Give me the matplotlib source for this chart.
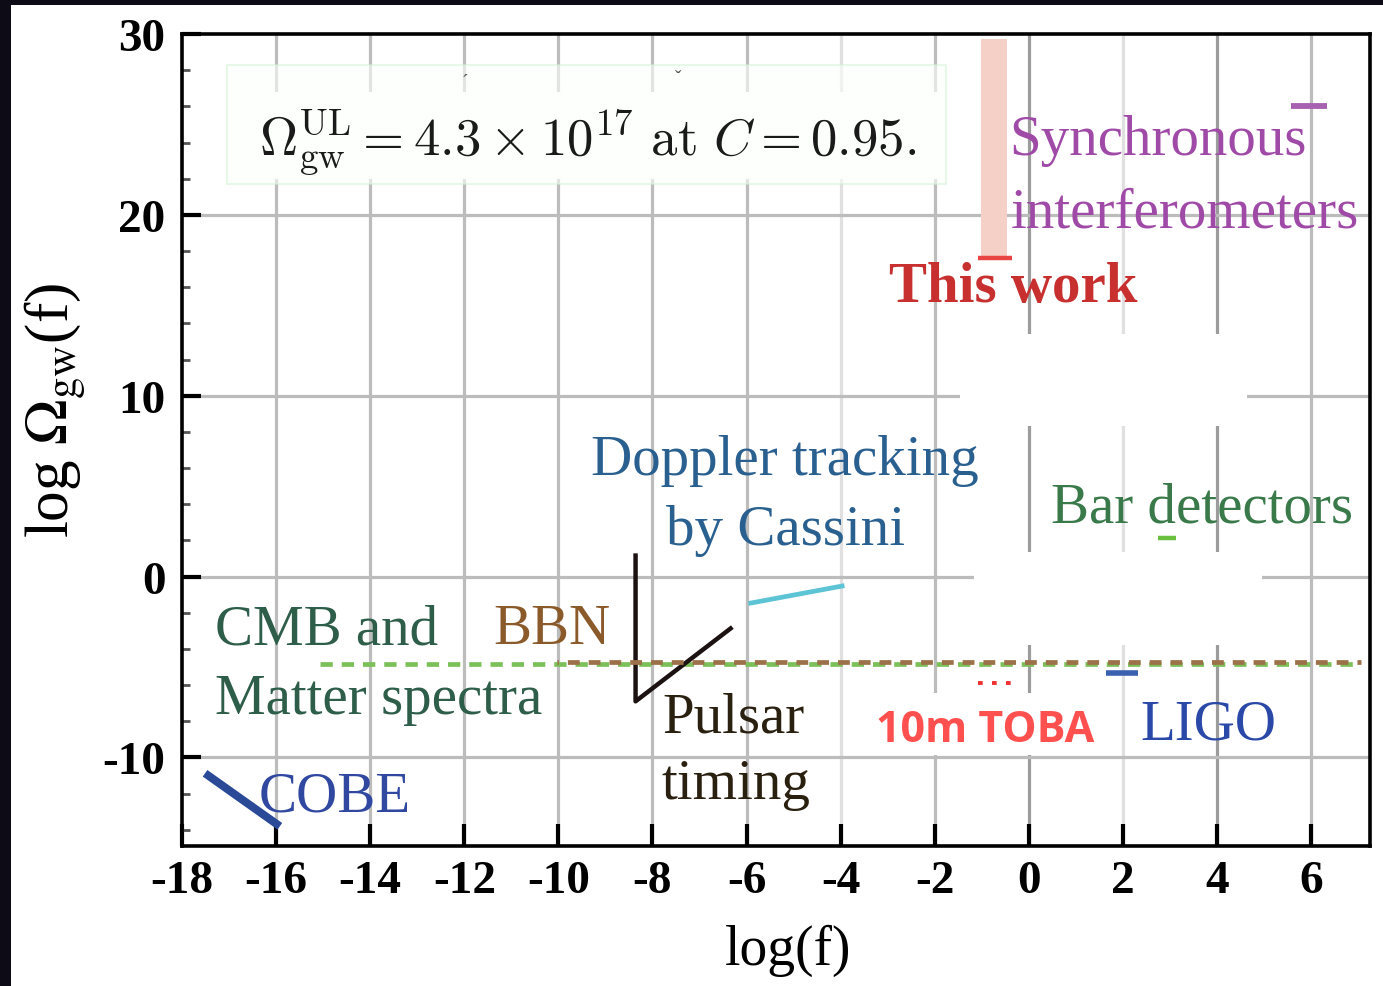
import matplotlib
matplotlib.use('Agg')
import matplotlib.pyplot as plt
from matplotlib.patches import Rectangle

plt.rcParams['font.family'] = ['Liberation Serif', 'DejaVu Serif']
plt.rcParams['axes.unicode_minus'] = False

# ---------------- data ----------------
x_ticks = [-18, -16, -14, -12, -10, -8, -6, -4, -2, 0, 2, 4, 6]
y_major = [-10, 0, 10, 20, 30]
y_minor = [-14, -12, -8, -6, -4, -2, 2, 4, 6, 8, 12, 14, 16, 18, 22, 24, 26, 28]
light_grid_x = [-4, 2]
dark_grid_x = [0, 4]

cobe_x = [-17.51, -15.92]
cobe_y = [-10.88, -13.81]
pulsar_x = [-8.36, -8.36, -6.34]
pulsar_y = [1.16, -6.90, -2.87]
cassini_x = [-5.96, -3.92]
cassini_y = [-1.49, -0.50]
cmb_x = [-15.07, 7.05]
cmb_y = [-4.85, -4.85]
bbn_x = [-10.04, 7.05]
bbn_y = [-4.75, -4.75]
toba_x = [-1.08, -0.38]
toba_y = [-5.91, -5.91]
ligo_x = [1.64, 2.32]
ligo_y = [-5.36, -5.36]
bar_x = [2.74, 3.13]
bar_y = [2.15, 2.15]
sync_x = [5.57, 6.33]
sync_y = [26.0, 26.0]
this_work_center = -0.74
this_work_width = 0.55
this_work_ul = 17.63
this_work_top = 29.7
this_work_cap_x = [-1.08, -0.36]

# ---------------- figure ----------------
fig = plt.figure(figsize=(13.83, 9.87), dpi=100, facecolor='#0c0b16')
fig.patches.append(Rectangle((11 / 1383, 0), 1 - 11 / 1383, 1 - 6 / 987,
                             transform=fig.transFigure, facecolor='white',
                             edgecolor='none', zorder=-10))

ax = fig.add_axes([182 / 1383, 1 - 847 / 987, (1370 - 182) / 1383, (847 - 35) / 987])
ax.set_zorder(1)
ax.set_xlim(-18, 7.25)
ax.set_ylim(-14.9, 30)
ax.set_facecolor('white')

# grid
for xv in x_ticks[1:]:
    c = '#bcbcbc'
    if xv in light_grid_x:
        c = '#e0e0e0'
    elif xv in dark_grid_x:
        c = '#9c9c9c'
    ax.axvline(xv, color=c, lw=2.3, zorder=1)
for yv in y_major[:-1]:
    ax.axhline(yv, color='#bcbcbc', lw=2.3, zorder=1)

# white occlusions (gaps in grid behind labels)
def white_rect(x0, x1, y0, y1):
    ax.add_patch(Rectangle((x0, y0), x1 - x0, y1 - y0, facecolor='white',
                           edgecolor='none', zorder=1.5))

white_rect(-1.46, 4.63, 8.34, 13.43)
white_rect(-1.16, 4.95, -3.76, 1.33)
white_rect(-3.35, 1.53, -9.89, -6.46)
white_rect(-17.04, -1.76, 21.99, 26.80)

# inset box
ax.add_patch(Rectangle((-17.04, 21.71), 15.28, 6.58, facecolor='#fbfffb',
                       edgecolor='#d2f2d2', lw=1.2, zorder=1.6, alpha=0.6))
ax.text(-9.38, 23.37,
        r'$\Omega^{\rm UL}_{\rm gw} = 4.3 \times 10^{17}\ {\rm at}\ C = 0.95.$',
        fontsize=38, math_fontfamily='cm', ha='center', va='baseline',
        color='#1a1a1a', zorder=4)
ax.text(-12.0, 27.4, 'ˊ', fontsize=14, color='#555555', ha='center', va='center')
ax.text(-7.45, 27.6, 'ˇ', fontsize=14, color='#555555', ha='center', va='center')

# marks
ax.plot(cmb_x, cmb_y, color='#7cc05a', lw=3.4, linestyle=(0, (2.6, 1.9)),
        zorder=3, dash_capstyle='butt')
ax.plot(bbn_x, bbn_y, color='#9c7048', lw=3.4, linestyle=(2.2, (2.5, 1.9)),
        zorder=3.1, dash_capstyle='butt')
ax.plot(cobe_x, cobe_y, color='#2a4a98', lw=5.8, solid_capstyle='butt', zorder=3)
ax.plot(pulsar_x, pulsar_y, color='#1c1212', lw=3.2, zorder=3)
ax.plot(cassini_x, cassini_y, color='#5cc4d4', lw=3.4, solid_capstyle='butt', zorder=3)
ax.plot(toba_x, toba_y, color='#f03030', lw=2.8, linestyle=(0, (1.2, 2.4)), zorder=3)
ax.plot(ligo_x, ligo_y, color='#3a60b0', lw=4, solid_capstyle='butt', zorder=3)
ax.plot(bar_x, bar_y, color='#6cc040', lw=3.2, solid_capstyle='butt', zorder=3)
ax.plot(sync_x, sync_y, color='#a860b0', lw=4.2, solid_capstyle='butt', zorder=3)
ax.bar([this_work_center], [this_work_top - this_work_ul], bottom=this_work_ul,
       width=this_work_width, color='#f5d0c6', zorder=2.5)
ax.plot(this_work_cap_x, [this_work_ul, this_work_ul], color='#e84444', lw=3.2,
        solid_capstyle='butt', zorder=3)

# annotations
fs = 41
ann = [
    ('CMB and', -17.30, -3.70, '#2e5e4a', 'normal'),
    ('Matter spectra', -17.30, -7.57, '#2e5e4a', 'normal'),
    ('BBN', -11.38, -3.70, '#8b5a2b', 'normal'),
    ('COBE', -16.37, -12.93, '#3048a0', 'normal'),
    ('Doppler tracking', -9.30, 5.69, '#2a6090', 'normal'),
    ('by Cassini', -7.72, 1.82, '#2a6090', 'normal'),
    ('Bar detectors', 0.47, 3.04, '#3a7a4a', 'normal'),
    ('Synchronous', -0.42, 23.37, '#a04aa8', 'normal'),
    ('interferometers', -0.38, 19.34, '#a04aa8', 'normal'),
    ('This work', -2.97, 15.25, '#c83030', 'bold'),
    ('Pulsar', -7.80, -8.56, '#2a2010', 'normal'),
    ('timing', -7.80, -12.27, '#2a2010', 'normal'),
    ('LIGO', 2.36, -8.95, '#2a48a8', 'normal'),
]
for t, x, y, c, w in ann:
    ax.text(x, y, t, fontsize=fs, color=c, fontweight=w, ha='left',
            va='baseline', zorder=4)
ax.text(-3.24, -9.12, '10m TOBA', fontsize=31, color='#ff5050',
        fontweight='bold', family=['Open Sans', 'DejaVu Sans'],
        ha='left', va='baseline', zorder=4)

# axes styling
for s in ['left', 'bottom', 'top', 'right']:
    ax.spines[s].set_color('black')
    ax.spines[s].set_linewidth(2.6)
    ax.spines[s].set_zorder(5)

ax.set_xticks(x_ticks)
ax.set_xticklabels([str(v) for v in x_ticks])
ax.set_yticks(y_major)
ax.set_yticklabels([str(v) for v in y_major])
ax.set_yticks(y_minor, minor=True)
ax.tick_params(axis='x', which='major', direction='in', length=16, width=3,
               color='black', pad=10, top=False)
ax.tick_params(axis='y', which='major', direction='in', length=14, width=3,
               color='black', pad=12, right=False)
ax.tick_params(axis='y', which='minor', direction='in', length=6, width=2,
               color='#555555', right=False)
for lab in ax.get_xticklabels() + ax.get_yticklabels():
    lab.set_fontsize(34)
    lab.set_fontweight('bold')

fig.text(788 / 1383, 1 - 951 / 987, 'log(f)', fontsize=40, ha='center',
         va='center', color='black')
fig.text(55 / 1383, 1 - 410 / 987, r'log $\Omega_{\rm gw}$(f)', fontsize=44,
         math_fontfamily='stix', rotation=90, ha='center', va='center',
         color='black')

fig.savefig('out.png', dpi=100, facecolor=fig.get_facecolor())
